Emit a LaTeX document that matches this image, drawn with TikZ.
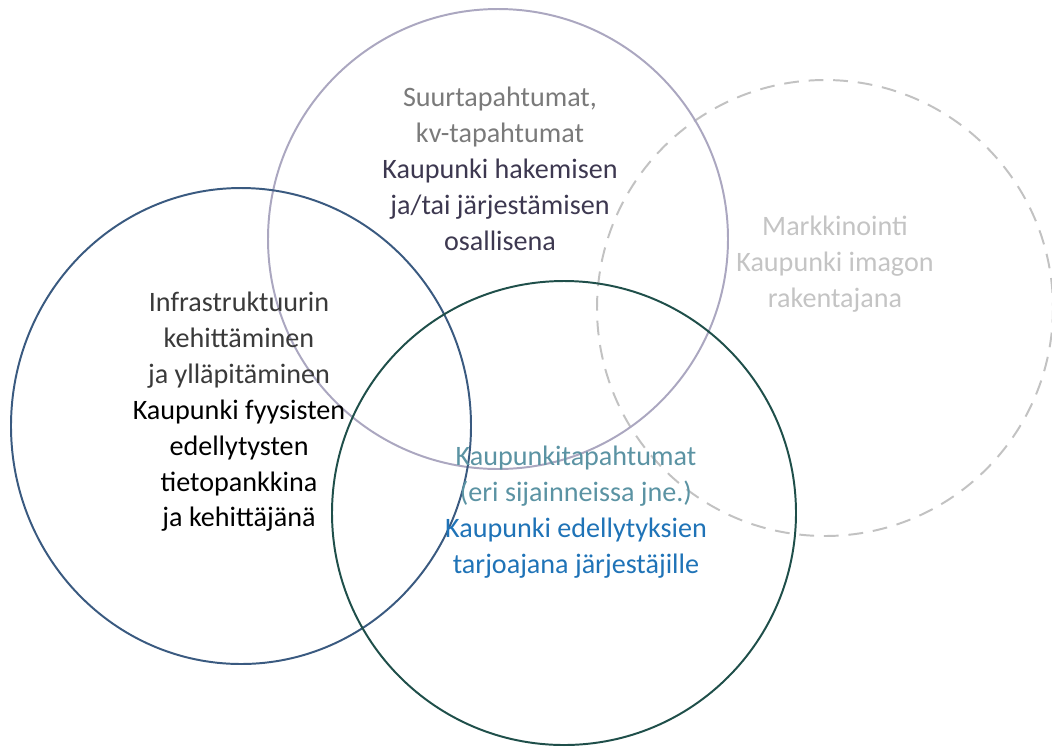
\documentclass[tikz,border=0pt]{standalone}
\usepackage{fontspec}
\setmainfont{Carlito}
\usepackage{xcolor}
\definecolor{ringleft}{HTML}{3A5A80}
\definecolor{ringtop}{HTML}{ABA7C0}
\definecolor{ringbottom}{HTML}{1F4F4A}
\definecolor{ringright}{HTML}{C2C2C2}
\definecolor{toplight}{HTML}{7A7A7A}
\definecolor{topdark}{HTML}{3D3850}
\definecolor{leftlight}{HTML}{3A3A3A}
\definecolor{rightgray}{HTML}{C4C4C4}
\definecolor{botlight}{HTML}{5B93A3}
\definecolor{botdark}{HTML}{1F73B7}

\begin{document}
\begin{tikzpicture}[x=0.025cm,y=-0.025cm,
  ring/.style={line width=1.4pt},
  lbl/.style={align=center,font=\fontsize{20}{25.5}\selectfont}]
  \useasboundingbox (0,0) rectangle (1052,746);
  % circles
  \draw[ring,ringright,dash pattern=on 10.5pt off 7pt] (825,308) circle (228);
  \draw[ring,ringtop] (498,239) circle (230);
  \draw[ring,ringleft] (241,426) ellipse (230 and 238);
  \draw[ring,ringbottom] (564,513) circle (232);
  % texts
  \node[lbl] (events) at (500,169) {\textcolor{toplight}{Suurtapahtumat,}\\
    \textcolor{toplight}{kv-tapahtumat}\\
    \textcolor{topdark}{Kaupunki hakemisen}\\
    \textcolor{topdark}{ja/tai järjestämisen}\\
    \textcolor{topdark}{osallisena}};
  \node[lbl,rightgray] (marketing) at (835,264) {Markkinointi\\
    Kaupunki imagon\\ rakentajana};
  \node[lbl] (infra) at (239,412) {\textcolor{leftlight}{Infrastruktuurin}\\
    \textcolor{leftlight}{kehittäminen}\\
    \textcolor{leftlight}{ja ylläpitäminen}\\
    Kaupunki fyysisten\\ edellytysten\\ tietopankkina\\ ja kehittäjänä};
  \node[lbl] (cityevents) at (576,512) {\textcolor{botlight}{Kaupunkitapahtumat}\\
    \textcolor{botlight}{(eri sijainneissa jne.)}\\
    \textcolor{botdark}{Kaupunki edellytyksien}\\
    \textcolor{botdark}{tarjoajana järjestäjille}};
\end{tikzpicture}
\end{document}
